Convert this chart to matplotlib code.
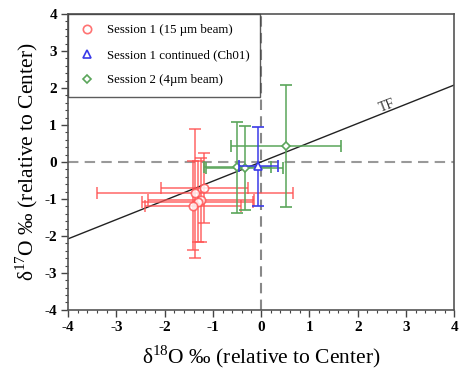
import numpy as np
import matplotlib.pyplot as plt
from matplotlib.ticker import MultipleLocator

# session 1 (15 um beam)
s1_x = [-1.37, -1.25, -1.31, -1.41, -1.18]
s1_y = [-0.85, -1.03, -1.07, -1.18, -0.70]
s1_xerr = [2.02, 1.10, 1.15, 1.00, 0.90]
s1_yerr = [1.75, 1.13, 1.10, 1.20, 0.94]

# session 1 continued (Ch01)
s1c_x = [-0.06]
s1c_y = [-0.12]
s1c_xerr = [0.40]
s1c_yerr = [1.06]

# session 2 (4um beam)
s2_x = [0.51, -0.49, -0.34]
s2_y = [0.43, -0.14, -0.16]
s2_xerr = [1.14, 0.70, 0.80]
s2_yerr = [1.65, 1.23, 1.14]

tf_slope = 0.52
ticks = list(range(-4, 5))

plt.rcParams['font.family'] = ['Liberation Serif', 'DejaVu Serif']
plt.rcParams['mathtext.fontset'] = 'custom'
plt.rcParams['mathtext.rm'] = 'Liberation Serif'

fig = plt.figure(figsize=(4.61, 3.77), dpi=100)
ax = fig.add_axes([0.1475, 0.178, 0.838, 0.785])

ax.axhline(0, color='#999999', lw=1.5, ls=(0, (5, 3)), zorder=1)
ax.axvline(0, color='#888888', lw=1.5, ls=(0, (5, 3)), zorder=1)

xx = np.array([-4, 4])
ax.plot(xx, tf_slope * xx, color='#222222', lw=1.0, zorder=2)
ax.text(2.6, 1.52, 'TF', rotation=21, ha='center', va='center', fontsize=10, color='#333333')

ax.errorbar(s1_x, s1_y, xerr=s1_xerr, yerr=s1_yerr, fmt='o', color='#ff5050',
            mfc='white', mec='#ff5050', ms=6, mew=1.2, elinewidth=1.2, capsize=4,
            capthick=1.2, alpha=0.8, zorder=3, label='Session 1 (15 µm beam)')
ax.errorbar(s1c_x, s1c_y, xerr=s1c_xerr, yerr=s1c_yerr, fmt='^', color='#3a3ae8',
            mfc='white', mec='#3a3ae8', ms=6, mew=1.2, elinewidth=1.1, capsize=4,
            capthick=1.1, zorder=4, label='Session 1 continued (Ch01)')
ax.errorbar(s2_x, s2_y, xerr=s2_xerr, yerr=s2_yerr, fmt='D', color='#5aa55a',
            mfc='white', mec='#5aa55a', ms=4.5, mew=1.2, elinewidth=1.1, capsize=4,
            capthick=1.1, zorder=3, label='Session 2 (4µm beam)')

ax.set_xlim(-4, 4)
ax.set_ylim(-4, 4)
ax.xaxis.set_minor_locator(MultipleLocator(0.2))
ax.yaxis.set_minor_locator(MultipleLocator(0.2))
ax.set_xticks(ticks)
ax.set_xticklabels([str(v) for v in ticks], fontweight='bold')
ax.set_yticks(ticks)
ax.set_yticklabels([str(v) for v in ticks], fontweight='bold')
ax.tick_params(which='major', length=5, width=1, labelsize=11, color='#444444', pad=3)
ax.tick_params(which='minor', length=2.5, width=0.8, color='#444444')
for sp in ax.spines.values():
    sp.set_color('#555555')
    sp.set_linewidth(1.2)

ax.set_xlabel('δ$^{18}$O ‰ (relative to Center)', fontsize=15.5, labelpad=7)
ax.set_ylabel('δ$^{17}$O ‰ (relative to Center)', fontsize=15.5, labelpad=3)

handles, labels = ax.get_legend_handles_labels()
handles = [h[0] for h in handles]
leg = ax.legend(handles, labels, loc='upper left', fontsize=9.3, frameon=True,
                fancybox=False, edgecolor='#333333', borderaxespad=0,
                handletextpad=0.8, labelspacing=1.0, borderpad=0.8, handlelength=1.4)
leg.get_frame().set_linewidth(1.0)

fig.savefig('out.png', dpi=100)
